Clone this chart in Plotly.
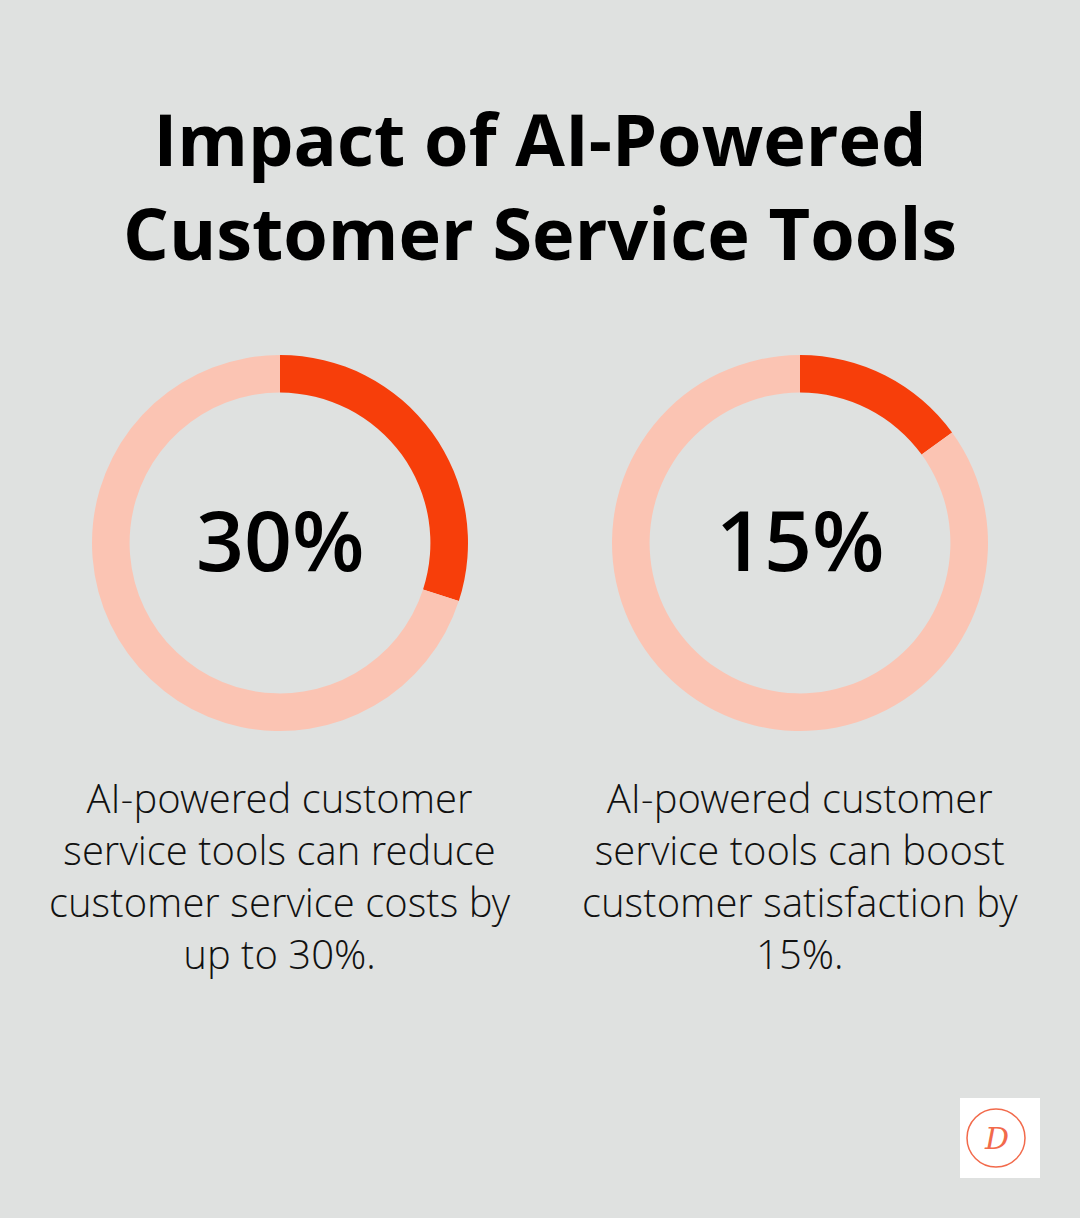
import plotly.graph_objects as go

values = [30, 15]
labels = ["30%", "15%"]
captions = ["AI-powered customer<br>service tools can reduce<br>customer service costs by<br>up to 30%.",
            "AI-powered customer<br>service tools can boost<br>customer satisfaction by<br>15%."]
title = "Impact of AI-Powered<br>Customer Service Tools"

W, H = 1080, 1218
centers = [280, 800]
R = 188
fig = go.Figure()
for v, cx, lab, cap in zip(values, centers, labels, captions):
    fig.add_trace(go.Pie(values=[v, 100 - v], hole=0.8, sort=False, direction="clockwise",
                         rotation=0, marker=dict(colors=["#f73e0a", "#fbc4b3"], line=dict(width=0)),
                         textinfo="none", hoverinfo="skip", showlegend=False,
                         domain=dict(x=[(cx - R) / W, (cx + R) / W], y=[1 - 731 / H, 1 - 355 / H])))
    fig.add_annotation(x=cx / W, y=1 - 538 / H, xref="paper", yref="paper", text=lab,
                       showarrow=False, xanchor="center", yanchor="middle",
                       font=dict(family="Open Sans", size=84, weight=600, color="#000"))
    fig.add_annotation(x=cx / W, y=1 - 768 / H, xref="paper", yref="paper", text=cap, showarrow=False,
                       font=dict(family="Open Sans Light, Open Sans", size=40, color="#111"),
                       xanchor="center", yanchor="top", align="center")
fig.add_annotation(x=0.5, y=1 - 87 / H, xref="paper", yref="paper", text="<b>" + title + "</b>",
                   showarrow=False, xanchor="center", yanchor="top",
                   font=dict(family="Open Sans", size=72, color="#000"))
# logo
fig.add_shape(type="rect", xref="paper", yref="paper", x0=960 / W, x1=1040 / W, y0=1 - 1178 / H, y1=1 - 1098 / H,
              fillcolor="white", line=dict(width=0))
fig.add_shape(type="circle", xref="paper", yref="paper", x0=967 / W, x1=1025 / W, y0=1 - 1167 / H, y1=1 - 1109 / H,
              line=dict(color="#f26a4b", width=1.5))
fig.add_annotation(x=996 / W, y=1 - 1138 / H, xref="paper", yref="paper", text="<i>D</i>", showarrow=False,
                   xanchor="center", yanchor="middle",
                   font=dict(family="DejaVu Serif", size=30, color="#f26a4b"))
fig.update_layout(width=W, height=H, margin=dict(l=0, r=0, t=0, b=0),
                  paper_bgcolor="#dfe1e0", plot_bgcolor="#dfe1e0")
fig.write_html("out.html", config={"displayModeBar": False},
               post_script="document.body.style.margin='0';document.body.style.background='#dfe1e0';")
